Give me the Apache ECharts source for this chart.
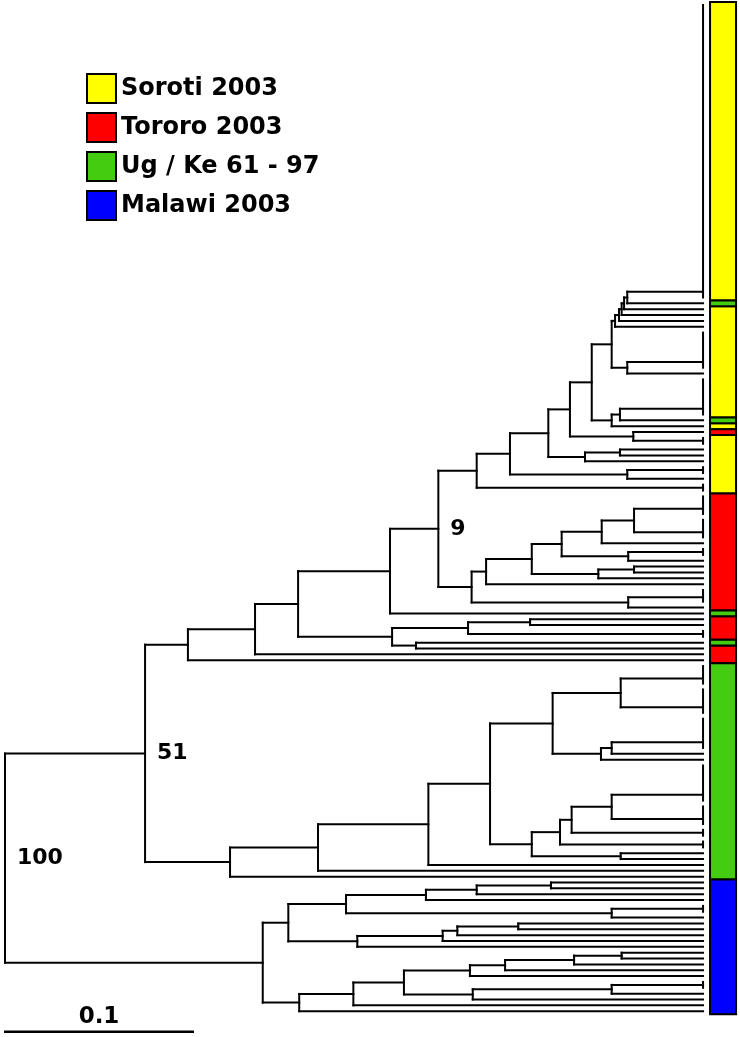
<!DOCTYPE html>
<html><head><meta charset="utf-8">
<script src="https://cdn.jsdelivr.net/npm/echarts@6/dist/echarts.min.js"></script>
<style>html,body{margin:0;padding:0;background:#fff}#c{width:740px;height:1037px}</style>
</head><body><div id="c"></div>
<script>
// ---------------- data ----------------
const groupNames  = ['Soroti 2003', 'Tororo 2003', 'Ug / Ke 61 - 97', 'Malawi 2003'];
const groupCodes  = ['S', 'T', 'U', 'M'];
const groupColors = ['#ffff00', '#ff0000', '#44cc11', '#0000ff'];
const tipDepth = 0.3713;          // ultrametric tree: distance root -> tips
const scaleBarLength = 0.1;
const scaleBarLabel = '0.1';

// internal node: [depthFromRoot, child, child, (support)]
// tip cluster:   [groupCode, numberOfIdenticalSequences]
const sorotiClade =
  [0.2509,
    [0.2686,
      [0.2890,
        [0.3005,
          [0.3121,
            [0.3227,
              [0.3245,
                [0.3266,
                  [0.3280,
                    [0.3293,
                      [0.3310, ['S', 51], ['U', 1]],
                      ['S', 1]],
                    ['S', 1]],
                  ['S', 1]],
                ['S', 1]],
              [0.3310, ['S', 7], ['S', 1]]],
            [0.3227,
              [0.3271, ['S', 7], ['U', 1]],
              ['S', 1]]],
          [0.3342, ['T', 1], ['S', 2]]],
        [0.3085, [0.3271, ['S', 1], ['S', 1]], ['S', 1]]],
      [0.3310, ['S', 2], ['S', 1]]],
    ['S', 2]];

const tororoClade =
  [0.2482,
    [0.2559,
      [0.2802,
        [0.2961,
          [0.3174,
            [0.3346, ['T', 4], ['T', 4]],
            ['T', 1]],
          [0.3315, ['T', 2], ['T', 1]]],
        [0.3156, [0.3346, ['T', 1], ['T', 1]], ['T', 1]]],
      ['T', 1]],
    [0.3315, ['T', 3], ['T', 1]]];

const mixedClade =
  [0.0973,
    [0.1330,
      [0.1559,
        [0.2048, [0.2305, sorotiClade, tororoClade, 9], ['U', 1]],
        [0.2059,
          [0.2463, [0.2793, ['T', 1], ['T', 1]], ['T', 2]],
          [0.2186, ['U', 1], ['T', 1]]]],
      ['T', 1]],
    ['T', 1]];

const ugKeClade =
  [0.1197,
    [0.1665,
      [0.2252,
        [0.2580,
          [0.2913,
            [0.3275, ['U', 4], ['U', 5]],
            [0.3170, [0.3227, ['U', 6], ['U', 1]], ['U', 1]]],
          [0.2802,
            [0.2952,
              [0.3014, [0.3227, ['U', 7], ['U', 4]], ['U', 2]],
              ['U', 2]],
            [0.3275, ['U', 1], ['U', 1]]]],
        ['U', 1]],
      ['U', 1]],
    ['U', 1]];

const malawiClade =
  [0.1371,
    [0.1507,
      [0.1814,
        [0.2239, [0.2509, [0.2904, ['M', 1], ['M', 1]], ['M', 1]], ['M', 1]],
        [0.3227, ['M', 2], ['M', 1]]],
      [0.1874,
        [0.2328, [0.2406, [0.2730, ['M', 1], ['M', 1]], ['M', 1]], ['M', 1]],
        ['M', 1]]],
    [0.1565,
      [0.1853,
        [0.2122,
          [0.2473, [0.2660, [0.3027, [0.3280, ['M', 1], ['M', 1]], ['M', 1]], ['M', 1]], ['M', 1]],
          [0.2488, [0.3227, ['M', 2], ['M', 1]], ['M', 1]]],
        ['M', 1]],
      ['M', 1]]];

const tree = [0, [0.0745, mixedClade, ugKeClade, 51], malawiClade, 100];

// ---------------- layout (index space) ----------------
const segs = [], leafGroups = [], supportLabels = [];
let counter = 0;
function layout(node) {
  if (typeof node[0] === 'string') {
    const g = groupCodes.indexOf(node[0]), n = node[1], t = counter;
    for (let k = 0; k < n; k++) leafGroups.push(g);
    counter += n;
    let y = t;
    for (let k = 1; k < n; k++) y = (y + t + k) / 2;
    if (n > 1) segs.push([tipDepth, t, tipDepth, t + n - 1]);
    return { x: tipDepth, y };
  }
  const d = node[0], kids = [];
  let support = null;
  for (let k = 1; k < node.length; k++) {
    if (Array.isArray(node[k])) kids.push(layout(node[k])); else support = node[k];
  }
  kids.forEach(c => segs.push([d, c.y, c.x, c.y]));
  const y0 = kids[0].y, y1 = kids[kids.length - 1].y;
  segs.push([d, y0, d, y1]);
  const y = (y0 + y1) / 2;
  if (support !== null) supportLabels.push([d, y, String(support)]);
  return { x: d, y };
}
layout(tree);
const nLeaves = leafGroups.length;

const runs = groupNames.map(() => []);
let s0 = 0;
for (let i = 1; i <= nLeaves; i++) {
  if (i === nLeaves || leafGroups[i] !== leafGroups[s0]) { runs[leafGroups[s0]].push([s0, i - 1]); s0 = i; }
}

// ---------------- chart ----------------
const SP = 5.85;        // px per leaf
const PX_PER_UNIT = 1880;
const X_MAX = 0.39;
const Y_MIN = -0.5, Y_MAX = 176;
const chart = echarts.init(document.getElementById('c'), null, { renderer: 'canvas' });
const FONT = 'DejaVu Sans';

const series = [];
groupNames.forEach((name, g) => {
  series.push({
    name, type: 'custom', data: runs[g],
    itemStyle: { color: groupColors[g], borderColor: '#000', borderWidth: 2 },
    encode: { x: -1, y: [0, 1] },
    renderItem: (p, api) => {
      const a = api.coord([tipDepth, api.value(0) - 0.5]);
      const b = api.coord([tipDepth, api.value(1) + 0.5]);
      return { type: 'rect', shape: { x: a[0] + 7, y: a[1], width: 26, height: b[1] - a[1] },
        style: { fill: groupColors[g], stroke: '#000', lineWidth: 2 } };
    }
  });
});
series.push({
  name: 'tree', type: 'custom', data: segs, encode: { x: [0, 2], y: [1, 3] },
  renderItem: (p, api) => {
    const a = api.coord([api.value(0), api.value(1)]);
    const b = api.coord([api.value(2), api.value(3)]);
    return { type: 'line', shape: { x1: a[0], y1: a[1], x2: b[0], y2: b[1] },
      style: { stroke: '#000', lineWidth: 2, lineCap: 'square' } };
  }
});
series.push({
  name: 'support', type: 'custom', data: supportLabels, encode: { x: 0, y: 1 },
  renderItem: (p, api) => {
    const a = api.coord([api.value(0), api.value(1)]);
    return { type: 'text', x: a[0] + 12, y: a[1],
      style: { text: supportLabels[p.dataIndex][2], fill: '#000', font: 'bold 22px "' + FONT + '"',
        textAlign: 'left', textVerticalAlign: 'middle' } };
  }
});
series.push({
  name: 'scale', type: 'custom', data: [[0, scaleBarLength, nLeaves - 1]],
  renderItem: (p, api) => {
    const a = api.coord([api.value(0), api.value(2)]);
    const b = api.coord([api.value(1), api.value(2)]);
    const y = a[1] + 20.5;
    return { type: 'group', children: [
      { type: 'line', shape: { x1: a[0] - 1, y1: y, x2: b[0] + 1, y2: y }, style: { stroke: '#000', lineWidth: 2.5 } },
      { type: 'text', x: (a[0] + b[0]) / 2, y: y - 15,
        style: { text: scaleBarLabel, fill: '#000', font: 'bold 23px "' + FONT + '"', textAlign: 'center', textVerticalAlign: 'middle' } }
    ] };
  }
});

chart.setOption({
  animation: false,
  backgroundColor: '#fff',
  grid: { left: 5, top: 5 + Y_MIN * SP, width: X_MAX * PX_PER_UNIT, height: (Y_MAX - Y_MIN) * SP },
  xAxis: { type: 'value', min: 0, max: X_MAX, show: false },
  yAxis: { type: 'value', min: Y_MIN, max: Y_MAX, inverse: true, show: false },
  legend: {
    data: groupNames, orient: 'vertical', left: 86, top: 73, padding: 0,
    itemWidth: 29, itemHeight: 29, itemGap: 8, icon: 'rect', selectedMode: false,
    itemStyle: { borderColor: '#000', borderWidth: 2 },
    textStyle: { fontFamily: FONT, fontWeight: 'bold', fontSize: 24, color: '#000' }
  },
  series
});
</script></body></html>
